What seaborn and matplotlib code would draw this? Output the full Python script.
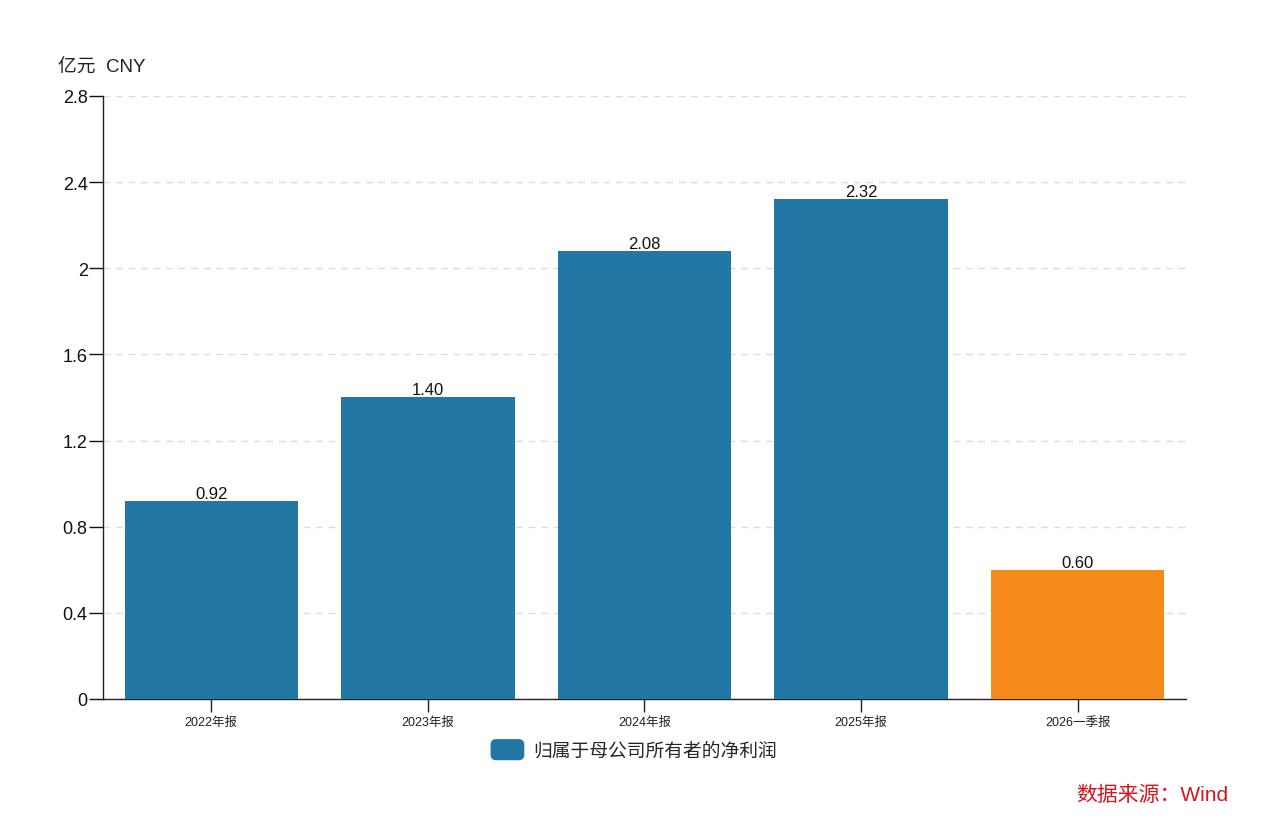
import matplotlib
matplotlib.use("Agg")
import matplotlib.pyplot as plt
import seaborn as sns
import pandas as pd
from matplotlib.patches import Patch, FancyBboxPatch
from matplotlib.legend_handler import HandlerBase

categories = ["2022年报", "2023年报", "2024年报", "2025年报", "2026一季报"]
values = [0.92, 1.40, 2.08, 2.32, 0.60]
bar_colors = ["#2277a4", "#2277a4", "#2277a4", "#2277a4", "#f5891a"]
yticks = [0, 0.4, 0.8, 1.2, 1.6, 2.0, 2.4, 2.8]
ytick_labels = ["0", "0.4", "0.8", "1.2", "1.6", "2", "2.4", "2.8"]
series_name = "归属于母公司所有者的净利润"
unit_label = "亿元  CNY"
source_text = "数据来源：Wind"

sns.set_theme(style="white")
plt.rcParams['font.family'] = ['Liberation Sans', 'Noto Sans CJK SC', 'DejaVu Sans']


class RoundHandler(HandlerBase):
    def create_artists(self, legend, orig_handle, xdescent, ydescent, width, height, fontsize, trans):
        p = FancyBboxPatch((-xdescent, -ydescent - 2), width, height + 4,
                           boxstyle="round,pad=0,rounding_size=4",
                           facecolor=orig_handle.get_facecolor(), edgecolor="none",
                           transform=trans)
        return [p]


df = pd.DataFrame({"cat": categories, "val": values})

fig = plt.figure(figsize=(12.68, 8.28), dpi=100)
ax = fig.add_axes([0.0812, 0.1546, 0.8541, 0.7283])

sns.barplot(data=df, x="cat", y="val", hue="cat", palette=bar_colors,
            width=0.8, legend=False, ax=ax, saturation=1, zorder=3, linewidth=0)

for p, v in zip(ax.patches, values):
    ax.text(p.get_x() + p.get_width() / 2, v, f"{v:.2f}", ha="center", va="bottom",
            fontsize=12, color="#111111", zorder=4)

ax.set_xlim(-0.5, 4.5)
ax.set_ylim(0, 2.8)
ax.set_yticks(yticks)
ax.set_yticklabels(ytick_labels, fontsize=13, color="#111111")
ax.tick_params(axis="x", labelsize=9, colors="#222222", length=9, width=1, pad=3,
               direction="out", bottom=True)
ax.tick_params(axis="y", length=10, width=1, pad=1, direction="out", left=True, colors="#111111")
ax.set_xlabel("")
ax.set_ylabel("")
ax.grid(axis="y", linestyle=(0, (5, 4)), color="#dddddd", linewidth=1, zorder=0)
ax.grid(axis="x", visible=False)
for s in ["top", "right"]:
    ax.spines[s].set_visible(False)
for s in ["left", "bottom"]:
    ax.spines[s].set_color("#222222")
    ax.spines[s].set_linewidth(1)

fig.text(58 / 1268, 1 - 68 / 828, unit_label, fontsize=13.5, color="#222222", va="center", ha="left")

handle = Patch(facecolor="#2277a4", edgecolor="none")
fig.legend(handles=[handle], labels=[series_name], loc="center", bbox_to_anchor=(0.5, 1 - 752 / 828),
           frameon=False, fontsize=13.5, handlelength=1.8, handleheight=0.9, handletextpad=0.5,
           handler_map={Patch: RoundHandler()})

fig.text(1228 / 1268, 1 - 795 / 828, source_text, fontsize=15, color="#d9141c", ha="right", va="center")

fig.savefig("out.png", dpi=100)
